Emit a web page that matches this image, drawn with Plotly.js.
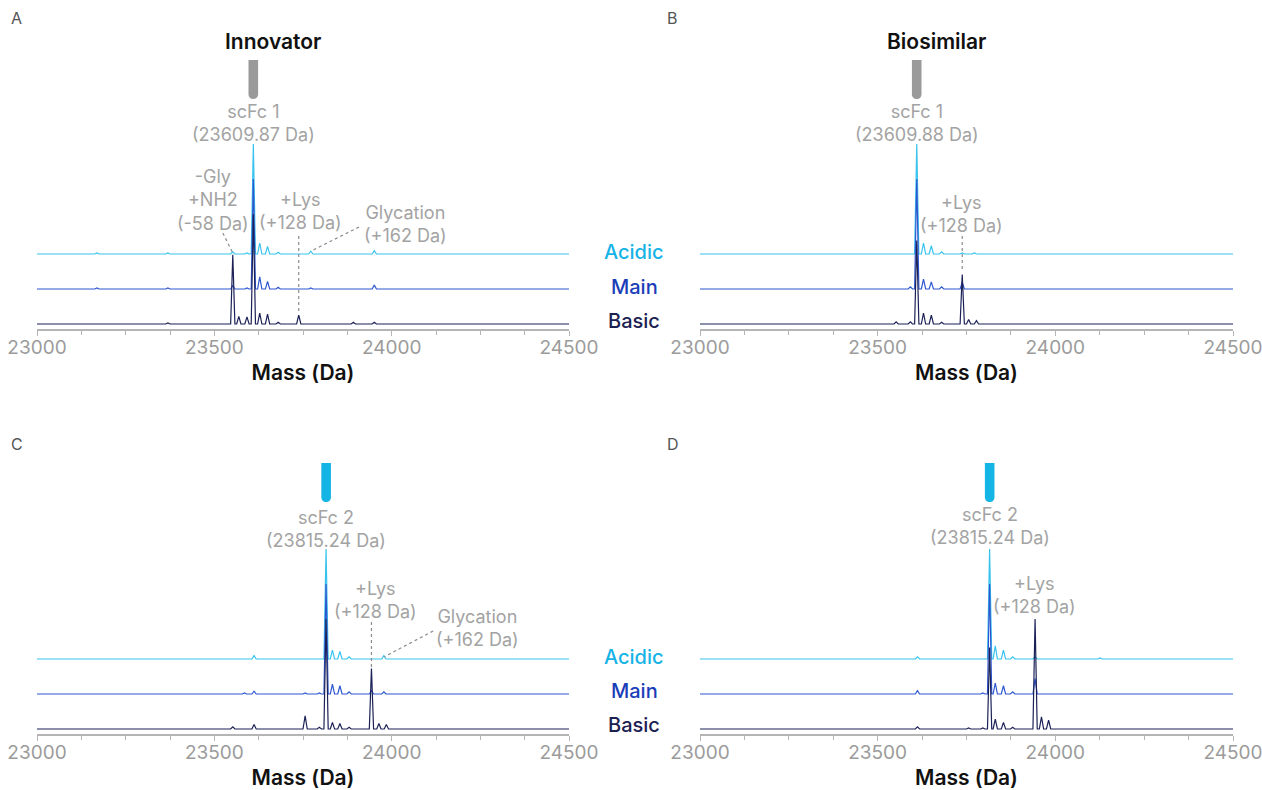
<!DOCTYPE html>
<html>
<head>
<meta charset="utf-8">
<script src="https://cdn.plot.ly/plotly-3.0.1.min.js"></script>
<style>html,body{margin:0;padding:0;background:#fff;}#chart{width:1262px;height:790px;}</style>
</head>
<body>
<div id="chart"></div>
<script>
// ---------- DATA (mass in Da, relative intensity in % of main peak) ----------
const xTickVals = [23000, 23500, 24000, 24500];
const xTickText = ['23000', '23500', '24000', '24500'];
const fractionNames = ['Acidic', 'Main', 'Basic'];
const panelLetters = ['A', 'B', 'C', 'D'];
const panelTitles = ['Innovator', 'Biosimilar', '', ''];
const labelledMass = [23609.87, 23609.88, 23815.24, 23815.24];
const labelledName = ['scFc 1', 'scFc 1', 'scFc 2', 'scFc 2'];

// Panel A – Innovator, scFc 1
const A_acidic_mass = [23169, 23369, 23552, 23592, 23610, 23628, 23650, 23680, 23772, 23951];
const A_acidic_int  = [1, 1, 2, 1, 100, 10, 7, 1.5, 2.5, 3];
const A_main_mass   = [23169, 23369, 23552, 23592, 23610, 23628, 23650, 23680, 23772, 23951];
const A_main_int    = [1, 1, 3, 1, 100, 11, 7, 1.5, 1, 3.5];
const A_basic_mass  = [23369, 23552, 23569, 23592, 23610, 23628, 23650, 23680, 23738, 23892, 23951];
const A_basic_int   = [1, 63, 7, 6.5, 100, 10, 9, 1.5, 8, 1.5, 1.5];

// Panel B – Biosimilar, scFc 1
const B_acidic_mass = [23610, 23629, 23651, 23680, 23738, 23772];
const B_acidic_int  = [100, 10, 7.5, 2, 1, 1];
const B_main_mass   = [23592, 23610, 23629, 23651, 23680, 23738];
const B_main_int    = [2, 100, 9, 6.5, 2, 6];
const B_basic_mass  = [23552, 23592, 23610, 23629, 23651, 23680, 23738, 23756, 23778];
const B_basic_int   = [2, 2, 76, 10, 8, 1.5, 45, 4, 3];

// Panel C – Innovator, scFc 2
const C_acidic_mass = [23612, 23815, 23833, 23854, 23880, 23978];
const C_acidic_int  = [3, 100, 8, 7, 2, 3];
const C_main_mass   = [23585, 23612, 23756, 23796, 23815, 23833, 23854, 23880, 23943, 23978];
const C_main_int    = [1, 2.5, 1, 1, 100, 9, 7.5, 2, 3, 2];
const C_basic_mass  = [23552, 23612, 23756, 23796, 23815, 23833, 23854, 23880, 23943, 23964, 23985];
const C_basic_int   = [2, 4, 12, 1.5, 100, 6, 5, 1.5, 55, 5, 4];

// Panel D – Biosimilar, scFc 2
const D_acidic_mass = [23612, 23815, 23831, 23854, 23880, 23943, 24126];
const D_acidic_int  = [2, 100, 12, 8, 2, 2, 1];
const D_main_mass   = [23612, 23796, 23815, 23831, 23854, 23880, 23943];
const D_main_int    = [3, 1, 100, 10, 7.5, 2, 14];
const D_basic_mass  = [23612, 23756, 23796, 23815, 23831, 23854, 23880, 23943, 23961, 23981];
const D_basic_int   = [2, 1, 1, 74, 9, 6, 1.5, 100, 11, 8];

// ---------- STYLE / LAYOUT CONSTANTS ----------
const W = 1262, H = 790;
const FONT = 'Inter, "Noto Sans", sans-serif';
const colors = ['#38c3ee', '#2d57cf', '#1b2157'];
const labelColors = ['#16b3e6', '#1a3db8', '#1c2152'];
const pillColors = ['#9a9a9a', '#9a9a9a', '#14b4e4', '#14b4e4'];
const HALF_W = 6;              // Da, half-width of each drawn peak
const PX_PER_PCT = 1.1;        // pixel height of 1 % intensity
const STACK_PX = 35;           // vertical spacing between stacked traces
const BASE_GAP = 5;            // basic baseline above axis line (px)
const PLOT_H = 189;            // plot area height (px)
const px2x = p => p / W;
const px2y = p => 1 - p / H;

const panels = [
  { xd: [37, 569],  axisPx: 329, letterPx: [9, 18],    data: [[A_acidic_mass, A_acidic_int], [A_main_mass, A_main_int], [A_basic_mass, A_basic_int]] },
  { xd: [700, 1233], axisPx: 329, letterPx: [665, 18], data: [[B_acidic_mass, B_acidic_int], [B_main_mass, B_main_int], [B_basic_mass, B_basic_int]] },
  { xd: [37, 569],  axisPx: 734, letterPx: [9, 444],   data: [[C_acidic_mass, C_acidic_int], [C_main_mass, C_main_int], [C_basic_mass, C_basic_int]] },
  { xd: [700, 1233], axisPx: 734, letterPx: [665, 444], data: [[D_acidic_mass, D_acidic_int], [D_main_mass, D_main_int], [D_basic_mass, D_basic_int]] }
];

const yMin = -BASE_GAP / PX_PER_PCT;
const yMax = yMin + PLOT_H / PX_PER_PCT;
const stackOffset = STACK_PX / PX_PER_PCT;

function buildSpectrum(mass, inten, offset) {
  const order = mass.map((m, i) => i).sort((a, b) => mass[a] - mass[b]);
  const xs = [xTickVals[0]], ys = [offset];
  order.forEach(i => {
    xs.push(mass[i] - HALF_W, mass[i], mass[i] + HALF_W);
    ys.push(offset, offset + inten[i], offset);
  });
  xs.push(xTickVals[xTickVals.length - 1]); ys.push(offset);
  return { xs, ys };
}

const traces = [];
const layout = {
  width: W, height: H,
  margin: { l: 0, r: 0, t: 0, b: 0 },
  paper_bgcolor: '#ffffff', plot_bgcolor: '#ffffff',
  showlegend: false,
  font: { family: FONT },
  annotations: [], shapes: []
};

panels.forEach((p, k) => {
  const n = k + 1;
  const xa = 'x' + (n === 1 ? '' : n), ya = 'y' + (n === 1 ? '' : n);
  const xKey = 'xaxis' + (n === 1 ? '' : n), yKey = 'yaxis' + (n === 1 ? '' : n);
  layout[xKey] = {
    domain: [px2x(p.xd[0]), px2x(p.xd[1])], anchor: ya,
    range: [xTickVals[0], xTickVals[xTickVals.length - 1]],
    tickmode: 'array', tickvals: xTickVals, ticktext: xTickText,
    ticklabeloverflow: 'allow', ticklabelstandoff: -5,
    showline: true, linecolor: '#b5b5b5', linewidth: 2,
    ticks: 'outside', ticklen: 5, tickwidth: 1, tickcolor: '#b5b5b5',
    minor: { tickmode: 'linear', tick0: 23000, dtick: 125, ticks: 'outside', ticklen: 4, tickcolor: '#b5b5b5', showgrid: false },
    tickfont: { size: 19, color: '#9b9b9b', family: FONT },
    showgrid: false, zeroline: false, fixedrange: true,
    title: { text: 'Mass (Da)', standoff: 8, font: { size: 21, color: '#111111', family: FONT, weight: 600 } }
  };
  layout[yKey] = {
    domain: [px2y(p.axisPx), px2y(p.axisPx - PLOT_H)], anchor: xa,
    range: [yMin, yMax], visible: false, fixedrange: true
  };
  p.data.forEach((d, j) => {
    const offset = (2 - j) * stackOffset;
    const s = buildSpectrum(d[0], d[1], offset);
    traces.push({ type: 'scatter', mode: 'lines', x: s.xs, y: s.ys, xaxis: xa, yaxis: ya,
      line: { color: colors[j], width: 1.2 }, hoverinfo: 'skip' });
  });
  // panel letter
  layout.annotations.push({ xref: 'paper', yref: 'paper', x: px2x(p.letterPx[0]), y: px2y(p.letterPx[1]), xanchor: 'left', yanchor: 'middle',
    text: panelLetters[k], showarrow: false, font: { size: 16, color: '#555555', family: FONT } });
  // panel title
  if (panelTitles[k]) {
    layout.annotations.push({ xref: 'paper', yref: 'paper', x: px2x(k === 0 ? 273 : 936), y: px2y(41), xanchor: 'center', yanchor: 'middle',
      text: panelTitles[k], showarrow: false, font: { size: 21, color: '#111111', family: FONT, weight: 600 } });
  }
  // pill marker
  const pillTop = k < 2 ? 60 : 463;
  layout.shapes.push({ type: 'path', xref: xa, yref: 'paper', xsizemode: 'pixel', ysizemode: 'pixel',
    xanchor: labelledMass[k], yanchor: px2y(pillTop),
    path: 'M -4.8,0 L 4.8,0 L 4.8,-34.2 C 4.8,-40.6 -4.8,-40.6 -4.8,-34.2 Z',
    fillcolor: pillColors[k], line: { width: 0 } });
  // main label
  layout.annotations.push({ xref: xa, yref: 'paper', x: labelledMass[k], y: px2y(k < 2 ? 123.5 : (k === 2 ? 528.5 : 526)),
    xanchor: 'center', yanchor: 'middle', showarrow: false,
    text: labelledName[k] + '<br>(' + labelledMass[k].toFixed(2) + ' Da)',
    font: { size: 18, color: '#a3a3a3', family: FONT } });
});

// side labels (Acidic / Main / Basic)
[[252, 287, 321], [657, 691, 725]].forEach(row => {
  row.forEach((py, j) => {
    layout.annotations.push({ xref: 'paper', yref: 'paper', x: px2x(634), y: px2y(py), xanchor: 'center', yanchor: 'middle',
      text: fractionNames[j], showarrow: false, font: { size: 20, color: labelColors[j], family: FONT, weight: 500 } });
  });
});

// modification annotations
const grey = { size: 18, color: '#a3a3a3', family: FONT };
function note(xa, mass, py, text) {
  layout.annotations.push({ xref: xa, yref: 'paper', x: mass, y: px2y(py), xanchor: 'center', yanchor: 'middle', showarrow: false, text: text, font: grey });
}
function leader(xa, m0, py0, m1, py1) {
  layout.shapes.push({ type: 'line', xref: xa, yref: 'paper', x0: m0, y0: px2y(py0), x1: m1, y1: px2y(py1),
    line: { color: '#8c8c8c', width: 1.2, dash: 'dot' } });
}
// A
note('x', 23496, 199.5, '-Gly<br>+NH2<br>(-58 Da)');
note('x', 23744, 211, '+Lys<br>(+128 Da)');
note('x', 24038, 224.5, 'Glycation<br>(+162 Da)');
leader('x', 23524, 233, 23552, 253);
leader('x', 23738, 236, 23738, 313);
leader('x', 23908, 227, 23773, 251);
// B
note('x2', 23737, 214, '+Lys<br>(+128 Da)');
leader('x2', 23738, 236, 23738, 272);
// C
note('x3', 23953, 599.5, '+Lys<br>(+128 Da)');
note('x3', 24243, 627.5, 'Glycation<br>(+162 Da)');
leader('x3', 23943, 622, 23943, 667);
leader('x3', 24117, 631, 23978, 657);
// D
note('x4', 23942, 595, '+Lys<br>(+128 Da)');

Plotly.newPlot('chart', traces, layout, { staticPlot: true, displayModeBar: false });
</script>
</body>
</html>
